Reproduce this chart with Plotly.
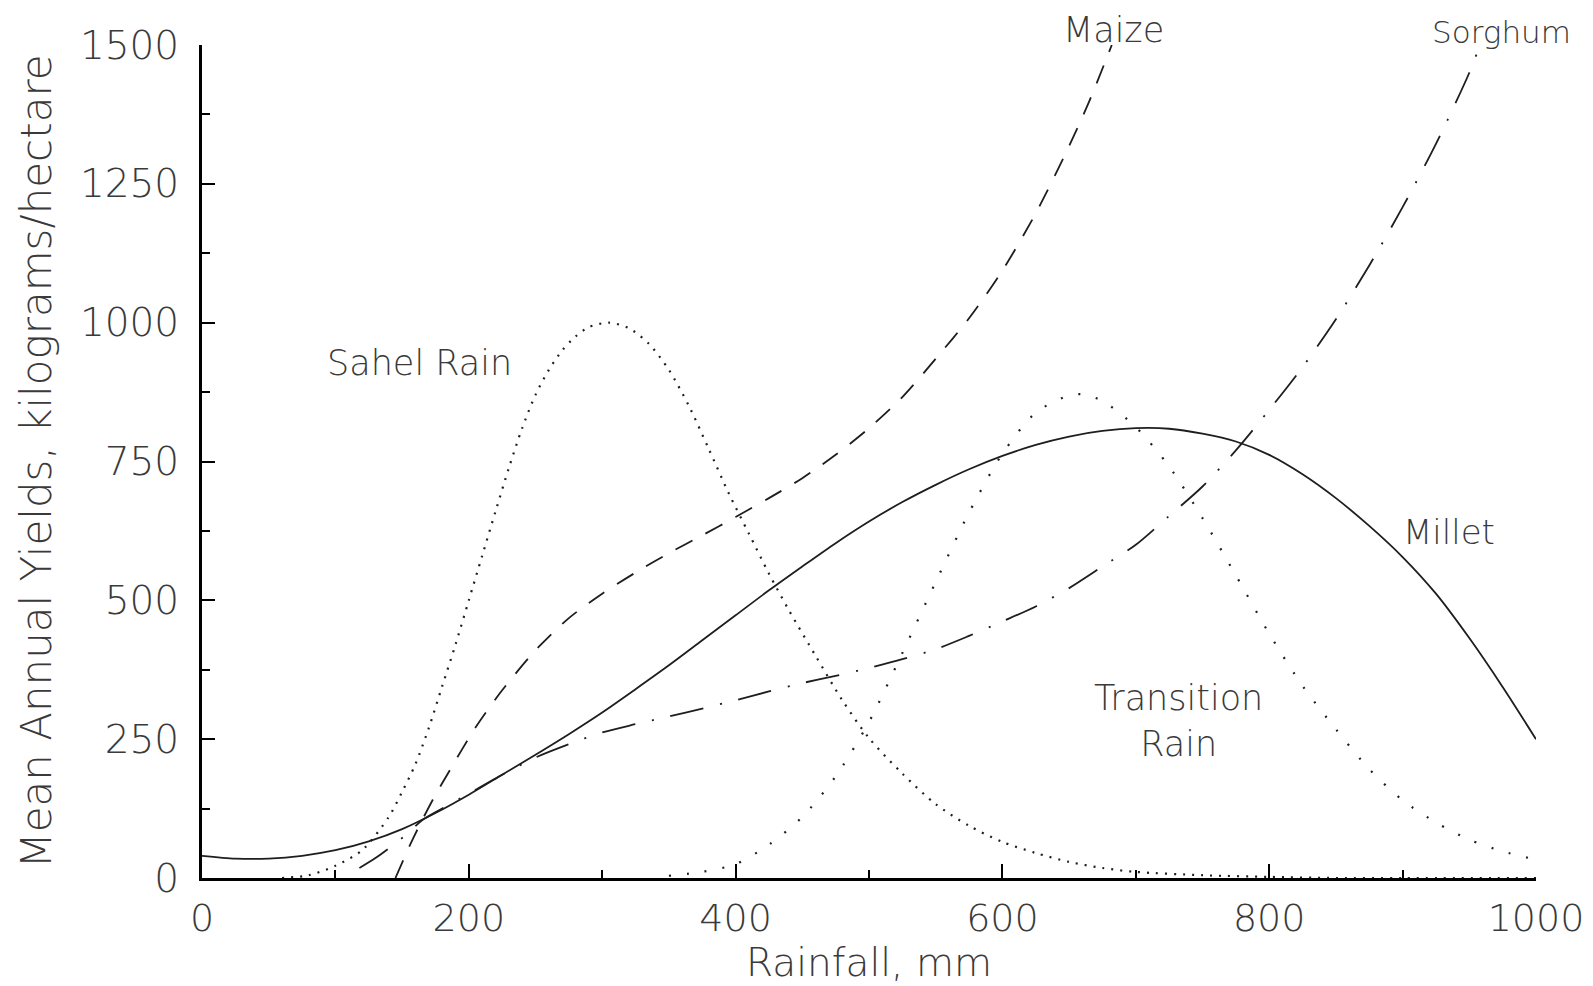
import plotly.graph_objects as go

# ---------------- data ----------------
millet_x = [0, 25, 50, 75, 100, 125, 150, 175, 200, 225, 250, 275, 300, 325, 350, 375,
            400, 425, 450, 475, 500, 525, 550, 575, 600, 625, 650, 675, 700, 725, 750,
            775, 800, 825, 850, 875, 900, 925, 950, 975, 1000]
millet_y = [40, 35, 35, 40, 50, 66, 88, 117, 150, 186, 222, 259, 298, 340, 383, 428,
            473, 518, 561, 603, 642, 677, 708, 736, 760, 780, 795, 805, 810, 809, 800,
            786, 762, 727, 684, 634, 578, 512, 432, 344, 250]

maize_x = [145, 158, 173, 185, 205, 225, 250, 275, 300, 325, 350, 375, 400, 425, 450,
           475, 500, 525, 550, 575, 600, 625, 650, 665, 682]
maize_y = [0, 70, 141, 191, 271, 338, 410, 468, 512, 550, 585, 617, 650, 684, 720,
           762, 810, 866, 935, 1008, 1094, 1197, 1318, 1398, 1500]

sorghum_x = [118, 130, 142, 155, 165, 180, 200, 225, 250, 275, 300, 325, 350, 375, 400,
             425, 450, 475, 500, 525, 550, 575, 600, 625, 650, 675, 700, 725, 750, 775,
             800, 825, 850, 875, 900, 925, 950, 958]
sorghum_y = [18, 36, 57, 82, 104, 125, 152, 186, 217, 241, 262, 277, 291, 305, 320,
             336, 351, 364, 378, 394, 412, 436, 462, 489, 522, 561, 600, 652, 705, 770,
             843, 920, 1006, 1103, 1208, 1322, 1450, 1500]

sahel_x = [60, 80, 100, 120, 140, 150, 160, 170, 180, 190, 200, 210, 220, 230, 240, 250,
           260, 270, 280, 290, 305, 320, 335, 350, 365, 380, 395, 410, 425, 440, 460,
           480, 500, 525, 550, 575, 600, 625, 650, 675, 700, 750, 800, 850, 900, 1000]
sahel_y = [0, 5, 22, 50, 110, 155, 205, 270, 345, 420, 500, 580, 660, 738, 810, 870,
           915, 950, 975, 992, 1000, 990, 962, 915, 850, 772, 692, 620, 548, 482, 400,
           320, 252, 188, 133, 94, 65, 45, 29, 18, 11, 5, 2, 0, 0, 0]

trans_x = [350, 375, 400, 425, 450, 475, 500, 525, 550, 575, 600, 625, 650, 660, 675,
           700, 725, 750, 775, 800, 825, 850, 875, 900, 925, 950, 975, 1000]
trans_y = [4, 11, 25, 60, 110, 183, 281, 405, 533, 658, 764, 838, 869, 871, 859,
           812, 741, 648, 545, 440, 346, 268, 196, 140, 100, 69, 48, 33]

x_ticks = [0, 200, 400, 600, 800, 1000]
y_ticks = [0, 250, 500, 750, 1000, 1250, 1500]
Y_MAX = 1500

labels = ["Maize", "Sorghum", "Sahel Rain", "Millet", "Transition<br>Rain"]
label_x = [683, 974, 163, 935, 732]
label_y = [1527, 1523, 927, 623, 282]
label_size = [35, 31, 35, 34, 35]

# ---------------- figure ----------------
FONT = "DejaVu Sans"
TXT = "#3a3a3a"
LINE = "#1e1e1e"

fig = go.Figure()

fig.add_trace(go.Scatter(x=sahel_x, y=sahel_y, mode="lines", name="Sahel Rain",
                         line=dict(color=LINE, width=2.2, dash="2px,7px", shape="spline",
                                   smoothing=0.8)))
fig.add_trace(go.Scatter(x=trans_x, y=trans_y, mode="lines", name="Transition Rain",
                         line=dict(color=LINE, width=2.2, dash="2px,16px", shape="spline",
                                   smoothing=0.8)))
fig.add_trace(go.Scatter(x=millet_x, y=millet_y, mode="lines", name="Millet",
                         line=dict(color=LINE, width=1.8, shape="spline", smoothing=0.8)))
fig.add_trace(go.Scatter(x=maize_x, y=maize_y, mode="lines", name="Maize",
                         line=dict(color=LINE, width=1.8, dash="19px,15px", shape="spline",
                                   smoothing=0.8)))
fig.add_trace(go.Scatter(x=sorghum_x, y=sorghum_y, mode="lines", name="Sorghum",
                         line=dict(color=LINE, width=1.8, dash="34px,17px,2px,17px",
                                   shape="spline", smoothing=0.8)))

# labels placed in paper coordinates derived from the y-axis range (some lie above the plot)
for t, xx, yy, s in zip(labels, label_x, label_y, label_size):
    fig.add_annotation(x=xx, y=yy / Y_MAX, xref="x", yref="paper", text=t, showarrow=False,
                       font=dict(family=FONT, size=s, color=TXT, weight=300),
                       xanchor="center", yanchor="middle")

fig.update_xaxes(
    range=[0, 1000], tickvals=x_ticks, showgrid=False, zeroline=False,
    showline=True, linecolor="black", linewidth=3,
    ticks="inside", ticklen=14, tickwidth=2, tickcolor="black",
    minor=dict(dtick=100, tick0=0, ticks="inside", ticklen=8, tickwidth=2, tickcolor="black"),
    tickfont=dict(family=FONT, size=38, color=TXT, weight=300),
    ticklabelstandoff=4,
    title=dict(text="Rainfall, mm", font=dict(family=FONT, size=39, color=TXT, weight=300),
               standoff=8),
)
fig.update_yaxes(
    range=[0, Y_MAX], tickvals=y_ticks, showgrid=False, zeroline=False,
    showline=True, linecolor="black", linewidth=3,
    ticks="inside", ticklen=13, tickwidth=2, tickcolor="black",
    minor=dict(dtick=125, tick0=0, ticks="inside", ticklen=8, tickwidth=2, tickcolor="black"),
    tickfont=dict(family=FONT, size=39, color=TXT, weight=300),
    ticklabelstandoff=12,
    title=dict(text="Mean Annual Yields, kilograms/hectare",
               font=dict(family=FONT, size=42, color=TXT, weight=300), standoff=16),
)

fig.update_layout(
    width=1593, height=986,
    margin=dict(l=202, r=57, t=45, b=108, autoexpand=False),
    plot_bgcolor="white", paper_bgcolor="white",
    showlegend=False,
)

fig.write_html("out.html")
